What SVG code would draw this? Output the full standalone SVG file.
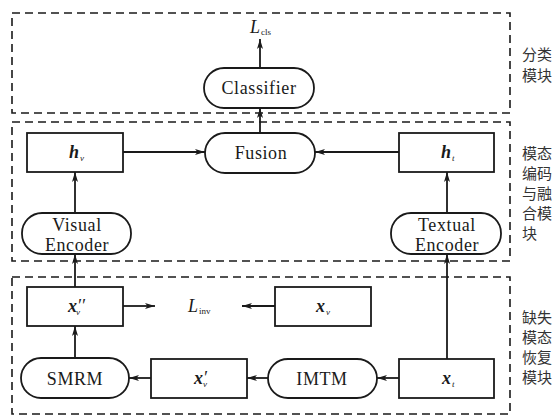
<svg xmlns="http://www.w3.org/2000/svg" width="559" height="416" viewBox="0 0 559 416">
  <defs>
    <marker id="arrow" viewBox="0 0 10 6" refX="10" refY="3" markerWidth="10" markerHeight="6" markerUnits="userSpaceOnUse" orient="auto">
      <path d="M0,0 L10,3 L0,6 L2.5,3 Z" fill="#1a1a1a"/>
    </marker>
  </defs>
  <style>
    .frame { fill: none; stroke: #1a1a1a; stroke-width: 1.6; stroke-dasharray: 8 5; }
    .box { fill: #fff; stroke: #1a1a1a; stroke-width: 1.8; }
    .txt { font-family: "Liberation Serif", "Times New Roman", serif; font-size: 18px; letter-spacing: 0.6px; fill: #1a1a1a; text-anchor: middle; }
    .var { font-family: "Liberation Serif", "Times New Roman", serif; font-size: 18px; font-weight: bold; font-style: italic; fill: #1a1a1a; }
    .sub { font-size: 9px; font-weight: normal; }
    .loss { font-family: "Liberation Serif", "Times New Roman", serif; font-size: 18px; font-style: italic; fill: #1a1a1a; }
    .lsub { font-size: 9px; font-style: normal; }
    .cjk { font-family: "Noto Sans CJK SC", "Noto Sans CJK JP", sans-serif; font-size: 15px; fill: #333; }
    .link { fill: none; stroke: #1a1a1a; stroke-width: 1.8; marker-end: url(#arrow); }
  </style>

  <!-- module frames -->
  <g id="frames">
    <rect class="frame" x="12" y="13" width="498" height="100"/>
    <rect class="frame" x="12" y="122" width="498" height="139"/>
    <rect class="frame" x="12" y="277" width="498" height="137"/>
  </g>

  <!-- module captions -->
  <g id="captions" class="cjk">
    <text x="522" y="60">分类</text>
    <text x="522" y="81">模块</text>
    <text x="522" y="159">模态</text>
    <text x="522" y="179">编码</text>
    <text x="522" y="199">与融</text>
    <text x="522" y="219">合模</text>
    <text x="522" y="239">块</text>
    <text x="522" y="323">缺失</text>
    <text x="522" y="343">模态</text>
    <text x="522" y="363">恢复</text>
    <text x="522" y="383">模块</text>
  </g>

  <!-- connectors -->
  <g id="connectors">
    <line class="link" x1="260" y1="68" x2="260" y2="39"/>
    <line class="link" x1="260" y1="133" x2="260" y2="108"/>
    <line class="link" x1="123" y1="152" x2="205" y2="152"/>
    <line class="link" x1="399" y1="152" x2="315" y2="152"/>
    <line class="link" x1="75" y1="213" x2="75" y2="172"/>
    <line class="link" x1="447" y1="213" x2="447" y2="172"/>
    <line class="link" x1="75" y1="287" x2="75" y2="254"/>
    <line class="link" x1="447" y1="359" x2="447" y2="254"/>
    <line class="link" x1="123" y1="306" x2="155" y2="306"/>
    <line class="link" x1="275" y1="306" x2="242" y2="306"/>
    <line class="link" x1="75" y1="358" x2="75" y2="326"/>
    <line class="link" x1="399" y1="378" x2="377" y2="378"/>
    <line class="link" x1="268" y1="378" x2="247" y2="378"/>
    <line class="link" x1="151" y1="378" x2="129" y2="378"/>
  </g>

  <!-- classification module -->
  <g id="loss-cls">
    <text class="loss" x="250" y="33">L<tspan class="lsub" dx="1" dy="2">cls</tspan></text>
  </g>
  <g id="classifier">
    <rect class="box" x="204" y="68" width="110" height="40" rx="20"/>
    <text class="txt" x="259" y="94">Classifier</text>
  </g>

  <!-- encoding and fusion module -->
  <g id="fusion">
    <rect class="box" x="205" y="133" width="110" height="40" rx="20"/>
    <text class="txt" x="261" y="159">Fusion</text>
  </g>
  <g id="h-v">
    <rect class="box" x="27" y="133" width="96" height="39"/>
    <text class="var" x="69" y="158">h<tspan class="sub" dx="1" dy="3">v</tspan></text>
  </g>
  <g id="h-t">
    <rect class="box" x="399" y="133" width="95" height="39"/>
    <text class="var" x="441" y="158">h<tspan class="sub" dx="1" dy="3">t</tspan></text>
  </g>
  <g id="visual-encoder">
    <rect class="box" x="22" y="213" width="109" height="41" rx="20"/>
    <text class="txt" x="77" y="231">Visual</text>
    <text class="txt" x="77" y="251">Encoder</text>
  </g>
  <g id="textual-encoder">
    <rect class="box" x="391" y="213" width="110" height="41" rx="20"/>
    <text class="txt" x="447" y="231">Textual</text>
    <text class="txt" x="447" y="251">Encoder</text>
  </g>

  <!-- missing modality recovery module -->
  <g id="x-v-pp">
    <rect class="box" x="27" y="287" width="96" height="39"/>
    <text class="var" x="68" y="312">x<tspan font-weight="normal">′′</tspan><tspan class="sub" dx="-9" dy="3">v</tspan></text>
  </g>
  <g id="loss-inv">
    <text class="loss" x="188" y="312">L<tspan class="lsub" dx="1" dy="2">inv</tspan></text>
  </g>
  <g id="x-v">
    <rect class="box" x="275" y="287" width="96" height="39"/>
    <text class="var" x="316" y="312">x<tspan class="sub" dx="1" dy="3">v</tspan></text>
  </g>
  <g id="smrm">
    <rect class="box" x="21" y="358" width="108" height="40" rx="20"/>
    <text class="txt" x="75" y="385">SMRM</text>
  </g>
  <g id="x-v-p">
    <rect class="box" x="151" y="359" width="96" height="39"/>
    <text class="var" x="194" y="384">x<tspan font-weight="normal">′</tspan><tspan class="sub" dx="-4" dy="3">v</tspan></text>
  </g>
  <g id="imtm">
    <rect class="box" x="268" y="359" width="109" height="39" rx="20"/>
    <text class="txt" x="322" y="385">IMTM</text>
  </g>
  <g id="x-t">
    <rect class="box" x="399" y="359" width="95" height="39"/>
    <text class="var" x="442" y="384">x<tspan class="sub" dx="1" dy="3">t</tspan></text>
  </g>
</svg>
